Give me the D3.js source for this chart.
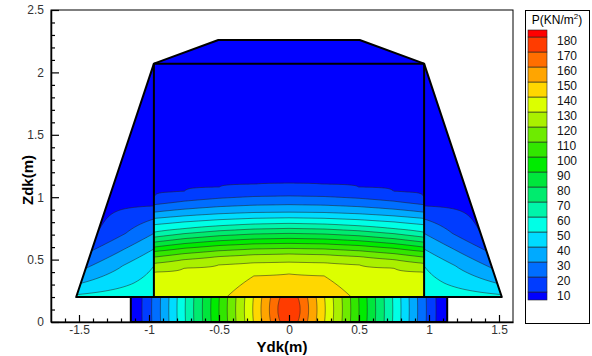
<!DOCTYPE html>
<html>
<head>
<meta charset="utf-8">
<script src="https://cdn.jsdelivr.net/npm/d3@7"></script>
<style>
body { margin: 0; background: #fff; }
text { font-family: "Liberation Sans", Arial, sans-serif; }
</style>
</head>
<body>
<div id="chart"></div>
<script>
// contour levels and band colours (band 0 is below the first level)
var levels = [10, 20, 30, 40, 50, 60, 70, 80, 90, 100, 110, 120, 130, 140, 150, 160, 170, 180];
var bandColors = ['#0000ff', '#003cff', '#006eff', '#00aaff', '#00dcff', '#00ffe6', '#00f5aa',
	'#00eb6e', '#00e63c', '#00eb00', '#32e600', '#6eeb00', '#aaf000', '#dcff00', '#ffd700',
	'#ffa500', '#ff6e00', '#ff3c00', '#ff0000'];

// strip under the body: pressure read along x (symmetric)
var stripX = [0, 0.08, 0.2, 0.3, 0.4, 0.5, 0.6, 0.7, 0.8, 0.9, 1.0, 1.05, 1.13];
var stripP = [178, 170, 150, 133, 117, 100, 83, 67, 50, 33, 17, 10, 4];

// inner body: height (m) of each contour level in a few columns
var bodyLevels = [140, 130, 120, 110, 100, 90, 80, 70, 60, 50, 40, 30, 20, 10];
var bodyColX = [0, 0.25, 0.5, 0.75, 0.965];
var bodyZ000 = [0.385, 0.48, 0.545, 0.59, 0.63, 0.67, 0.71, 0.75, 0.79, 0.835, 0.88, 0.94, 1.01, 1.11];
var bodyZ025 = [0.37, 0.475, 0.54, 0.585, 0.626, 0.665, 0.705, 0.745, 0.785, 0.831, 0.877, 0.936, 1.005, 1.103];
var bodyZ050 = [null, 0.459, 0.525, 0.571, 0.613, 0.651, 0.691, 0.731, 0.771, 0.82, 0.867, 0.924, 0.991, 1.08];
var bodyZ075 = [null, 0.432, 0.50, 0.548, 0.591, 0.628, 0.668, 0.708, 0.748, 0.802, 0.85, 0.904, 0.968, 1.044];
var bodyZ097 = [null, 0.40, 0.47, 0.52, 0.565, 0.60, 0.64, 0.68, 0.72, 0.78, 0.83, 0.88, 0.94, 1.00];
var bodyBottomP = [148, 147, 138, 136, 134];

// side wedges: contour heights at the inner wall and at the sloped face
var sideLevels = [50, 40, 30, 20, 10];
var sideInZ  = [0.45, 0.585, 0.71, 0.825, 0.93];
var sideOutZ = [0.22, 0.31, 0.43, 0.57, 0.71];
var sideBottomP = [57, 52];

// geometry (m)
var stripHalf = 1.13, stripTop = 0.2;
var innerHalf = 0.965, bodyTop = 2.07, baseHalf = 1.52;
var capHalf = 0.505, capTop = 2.26;

var width = 592, height = 356;
var plot = {left: 51, right: 513, top: 10, bottom: 322};

var x = d3.scaleLinear().domain([-1.7, 1.6]).range([plot.left, plot.right]);
var y = d3.scaleLinear().domain([0, 2.5]).range([plot.bottom, plot.top]);

var svg = d3.select('#chart').append('svg')
	.attr('width', width)
	.attr('height', height);
svg.append('rect').attr('width', width).attr('height', height).attr('fill', '#fff');
var defs = svg.append('defs');

// ---- field functions ----
var stripScale = d3.scaleLinear().domain(stripX).range(stripP).clamp(true);
function stripField(xv, zv) {
	var dz = 0.5 * (Math.max(0, Math.min(stripTop, zv)) - 0.1);
	return stripScale(Math.sqrt(xv * xv + dz * dz));
}

var bodyCols = [bodyZ000, bodyZ025, bodyZ050, bodyZ075, bodyZ097].map(function(zs, k) {
	var dom = [stripTop], rng = [bodyBottomP[k]];
	zs.forEach(function(z, i) {
		if (z !== null) { dom.push(z); rng.push(bodyLevels[i]); }
	});
	dom.push(bodyTop); rng.push(0);
	return d3.scaleLinear().domain(dom).range(rng).clamp(true);
});
function bodyField(xv, zv) {
	var ax = Math.min(Math.abs(xv), innerHalf);
	var i = Math.min(d3.bisectRight(bodyColX, ax) - 1, bodyColX.length - 2);
	var t = (ax - bodyColX[i]) / (bodyColX[i + 1] - bodyColX[i]);
	return (1 - t) * bodyCols[i](zv) + t * bodyCols[i + 1](zv);
}

var sideIn  = d3.scaleLinear().domain([stripTop].concat(sideInZ, [bodyTop])).range([sideBottomP[0]].concat(sideLevels, [0])).clamp(true);
var sideOut = d3.scaleLinear().domain([stripTop].concat(sideOutZ, [bodyTop])).range([sideBottomP[1]].concat(sideLevels, [0])).clamp(true);
var faceX = d3.scaleLinear().domain([stripTop, bodyTop]).range([baseHalf, innerHalf]).clamp(true);
function sideField(xv, zv) {
	var xe = faceX(zv);
	var t = xe - innerHalf > 1e-6 ? (Math.abs(xv) - innerHalf) / (xe - innerHalf) : 0;
	t = Math.max(0, Math.min(1, t));
	return (1 - t) * sideIn(zv) + t * sideOut(zv);
}

// ---- draw one contoured region clipped to its polygon ----
var clipN = 0;
function drawRegion(poly, field) {
	var pts = poly.map(function(p) { return [x(p[0]), y(p[1])]; });
	var x0 = Math.floor(d3.min(pts, function(p) { return p[0]; })) - 3,
		x1 = Math.ceil(d3.max(pts, function(p) { return p[0]; })) + 3,
		y0 = Math.floor(d3.min(pts, function(p) { return p[1]; })) - 3,
		y1 = Math.ceil(d3.max(pts, function(p) { return p[1]; })) + 3;
	var n = x1 - x0 + 1, m = y1 - y0 + 1;
	var values = new Array(n * m);
	for (var j = 0; j < m; j++)
		for (var i = 0; i < n; i++)
			values[j * n + i] = field(x.invert(x0 + i), y.invert(y0 + j));

	var id = 'clip' + (clipN++);
	defs.append('clipPath').attr('id', id)
		.append('polygon').attr('points', pts.map(function(p) { return p.join(','); }).join(' '));

	var path = d3.geoPath(d3.geoTransform({
		point: function(px, py) { this.stream.point(x0 - 0.5 + px, y0 - 0.5 + py); }
	}));
	var g = svg.append('g').attr('clip-path', 'url(#' + id + ')');
	g.append('rect')
		.attr('x', x0).attr('y', y0).attr('width', n).attr('height', m)
		.attr('fill', bandColors[0]);
	var bands = d3.contours().size([n, m]).thresholds(levels)(values);
	g.selectAll('path.band')
		.data(bands)
		.enter().append('path')
		.attr('class', 'band')
		.attr('d', path)
		.attr('fill', function(d, k) { return bandColors[k + 1]; })
		.attr('stroke', '#222')
		.attr('stroke-opacity', 0.75)
		.attr('stroke-width', 0.7);
}

var stripPoly = [[-stripHalf, 0], [stripHalf, 0], [stripHalf, stripTop], [-stripHalf, stripTop]];
var innerPoly = [[-innerHalf, stripTop], [innerHalf, stripTop], [innerHalf, bodyTop], [-innerHalf, bodyTop]];
var leftPoly  = [[-baseHalf, stripTop], [-innerHalf, stripTop], [-innerHalf, bodyTop]];
var rightPoly = [[innerHalf, stripTop], [baseHalf, stripTop], [innerHalf, bodyTop]];
var capPoly   = [[-innerHalf, bodyTop], [-capHalf, capTop], [capHalf, capTop], [innerHalf, bodyTop]];
var trapPoly  = [[-baseHalf, stripTop], [baseHalf, stripTop], [innerHalf, bodyTop], [-innerHalf, bodyTop]];

drawRegion(stripPoly, stripField);
drawRegion(innerPoly, bodyField);
drawRegion(leftPoly, sideField);
drawRegion(rightPoly, sideField);

var line = d3.line().x(function(d) { return x(d[0]); }).y(function(d) { return y(d[1]); });
svg.append('path').attr('d', line(capPoly) + 'Z').attr('fill', bandColors[0]);

// outlines
var outline = svg.append('g').attr('fill', 'none').attr('stroke', '#000').attr('stroke-width', 2)
	.attr('stroke-linejoin', 'round');
outline.append('path').attr('d', line(trapPoly) + 'Z');
outline.append('path').attr('d', line(capPoly));
outline.append('path').attr('d', line([[-innerHalf, stripTop], [-innerHalf, bodyTop]]));
outline.append('path').attr('d', line([[innerHalf, stripTop], [innerHalf, bodyTop]]));
outline.append('path').attr('d', line(stripPoly) + 'Z');

// ---- axes ----
var xTicks = [-1.5, -1, -0.5, 0, 0.5, 1, 1.5];
var yTicks = [0, 0.5, 1, 1.5, 2, 2.5];
var xMinor = d3.range(-16, 16).filter(function(i) { return i % 5 !== 0; }).map(function(i) { return i / 10; });
var yMinor = d3.range(1, 25).filter(function(i) { return i % 5 !== 0; }).map(function(i) { return i / 10; });

svg.append('rect')
	.attr('x', plot.left).attr('y', plot.top)
	.attr('width', plot.right - plot.left).attr('height', plot.bottom - plot.top)
	.attr('fill', 'none').attr('stroke', '#000').attr('stroke-width', 1);

svg.append('g')
	.attr('transform', 'translate(0,' + plot.bottom + ')')
	.call(d3.axisBottom(x).tickValues(xTicks).tickSizeInner(-7).tickSizeOuter(0).tickPadding(3)
		.tickFormat(function(d) { return String(d); }));
svg.append('g')
	.attr('transform', 'translate(0,' + plot.bottom + ')')
	.call(d3.axisBottom(x).tickValues(xMinor).tickSizeInner(-3.5).tickSizeOuter(0).tickFormat(''))
	.select('.domain').remove();

svg.append('g')
	.attr('transform', 'translate(' + plot.left + ',0)')
	.call(d3.axisLeft(y).tickValues(yTicks).tickSizeInner(-8).tickSizeOuter(0).tickPadding(7)
		.tickFormat(function(d) { return String(d); }));
svg.append('g')
	.attr('transform', 'translate(' + plot.left + ',0)')
	.call(d3.axisLeft(y).tickValues(yMinor).tickSizeInner(-4).tickSizeOuter(0).tickFormat(''))
	.select('.domain').remove();

svg.selectAll('.tick line').attr('stroke', '#000').attr('stroke-width', 1.2);
svg.selectAll('.domain').attr('stroke', '#000').attr('stroke-width', 1.5);
svg.selectAll('.tick text')
	.attr('fill', '#333')
	.style('font-size', '12px')
	.style('font-family', '"Liberation Sans", Arial, sans-serif');

svg.append('text')
	.attr('x', (plot.left + plot.right) / 2).attr('y', 352)
	.attr('text-anchor', 'middle')
	.style('font-size', '15px').style('font-weight', 'bold')
	.text('Ydk(m)');
svg.append('text')
	.attr('transform', 'translate(33,180) rotate(-90)')
	.attr('text-anchor', 'middle')
	.style('font-size', '15px').style('font-weight', 'bold')
	.text('Zdk(m)');

// ---- legend ----
var lg = svg.append('g');
lg.append('rect')
	.attr('x', 525.5).attr('y', 10.5).attr('width', 64).attr('height', 313)
	.attr('fill', '#fff').attr('stroke', '#000').attr('stroke-width', 1);
var title = lg.append('text').attr('x', 557).attr('y', 24).attr('text-anchor', 'middle')
	.style('font-size', '12px');
title.append('tspan').text('P(KN/m');
title.append('tspan').attr('dy', -5).style('font-size', '8px').text('2');
title.append('tspan').attr('dy', 5).text(')');

var swTop = 30, half = 7, step = 15;
var lgY = d3.scaleLinear().domain([180, 10]).range([swTop + half, swTop + half + 17 * step]);
var swatches = levels.map(function(lv, k) {
	return {color: bandColors[k], y0: k === 0 ? lgY(10) + half + 1 : lgY(lv - 10), y1: lgY(lv)};
});
swatches.push({color: bandColors[18], y0: lgY(180), y1: swTop});
lg.selectAll('rect.sw')
	.data(swatches)
	.enter().append('rect')
	.attr('class', 'sw')
	.attr('x', 528).attr('width', 19)
	.attr('y', function(d) { return Math.min(d.y0, d.y1); })
	.attr('height', function(d) { return Math.abs(d.y0 - d.y1); })
	.attr('fill', function(d) { return d.color; })
	.attr('stroke', '#222').attr('stroke-width', 0.6);
lg.selectAll('text.lv')
	.data(levels)
	.enter().append('text')
	.attr('class', 'lv')
	.attr('x', 557).attr('y', function(d) { return lgY(d) + 7.5; })
	.style('font-size', '12px').attr('fill', '#111')
	.text(function(d) { return d; });
</script>
</body>
</html>
